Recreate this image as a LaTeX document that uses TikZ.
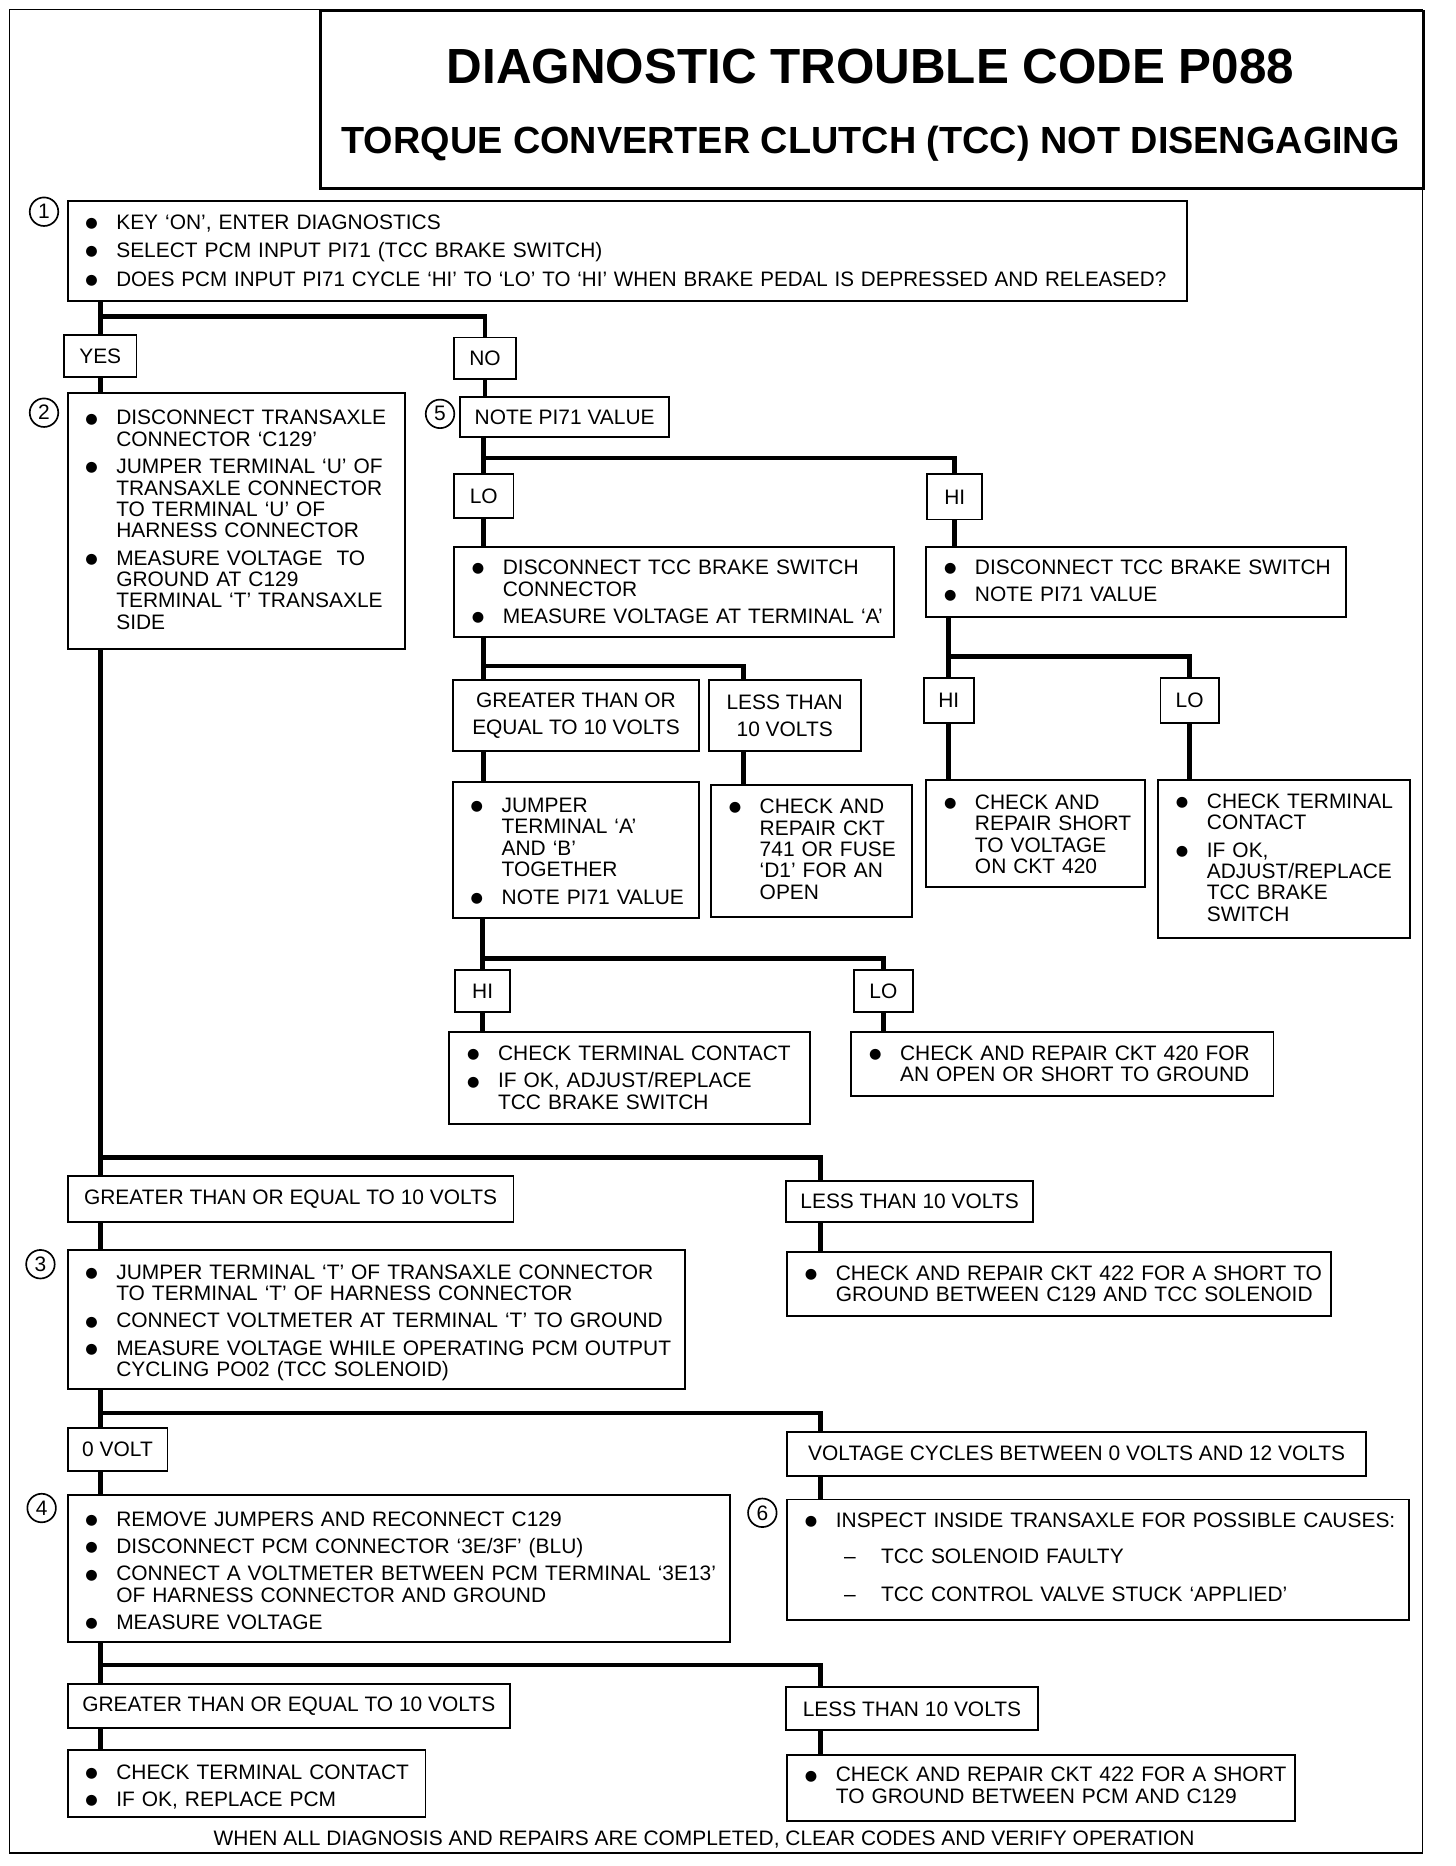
\documentclass[tikz,border=0pt]{standalone}
\usepackage{graphicx}
\usepackage{fontspec}
\setmainfont{Liberation Sans}
\newfontfamily\sym{DejaVu Sans}
\newcommand\body{\fontsize{17.6}{18}\selectfont\parskip=0pt\hyphenpenalty=10000\exhyphenpenalty=10000}
\newcommand\bul{\smash{\raisebox{1.5pt}{\sym\fontsize{12}{14}\selectfont ●}}}
\newcommand\bi{\par\hangindent=38pt\hangafter=0\noindent\llap{\makebox[38pt][l]{\hspace{12pt}\bul}}}
\newcommand\bl{\par\vspace{5pt}\bi}
\newcommand\dsh{\par\vspace{12pt}\hangindent=76pt\hangafter=0\noindent\llap{\makebox[76pt][l]{\hspace{45pt}–}}}
\newcommand\nl{\hfil\break}
\newcommand\ed[1]{\par\kern#1pt}
\tikzset{
  box/.style={draw, line width=1.6pt, fill=white, anchor=north west, inner xsep=3pt, inner ysep=0pt, align=left, font=\body},
  tag/.style={draw, line width=1.6pt, fill=white, anchor=north west, inner sep=0pt, align=center, font=\body},
  wire/.style={line width=4pt},
  num/.style={draw, circle, line width=1.4pt, minimum size=24pt, inner sep=0pt, font=\body},
}
\begin{document}
\begin{tikzpicture}[x=1pt, y=-1pt]
\useasboundingbox (0,0) rectangle (1224,1569);
\draw[line width=1.2pt] (8,8) rectangle (1196,1558);
% heading
\node[draw, line width=2.4pt, fill=white, anchor=north west, minimum width=928pt, minimum height=149pt, inner sep=0pt] (head) at (268,8) {};
\node[anchor=base, font=\fontsize{41.5}{44}\selectfont\bfseries] (ttl) at (732,70) {DIAGNOSTIC TROUBLE CODE P088};
\node[anchor=base, font=\fontsize{31.8}{34}\selectfont\bfseries] (sub) at (732,129) {TORQUE CONVERTER CLUTCH (TCC) NOT DISENGAGING};
% step 1
\node[box, text width=935pt, minimum height=84pt] (b1) at (56,168) {\bi KEY ‘ON’, ENTER DIAGNOSTICS
  \par\vspace{1pt}\bl SELECT PCM INPUT PI71 (TCC BRAKE SWITCH)
  \par\vspace{1pt}\bl \scalebox{0.983}[1]{DOES PCM INPUT PI71 CYCLE ‘HI’ TO ‘LO’ TO ‘HI’ WHEN BRAKE PEDAL IS DEPRESSED AND RELEASED?}\ed{6}};
\node[tag, minimum width=61pt, minimum height=35pt] (yes) at (53,281) {YES};
\node[tag, minimum width=52pt, minimum height=35pt] (no) at (381,283) {NO};
% step 2
\node[box, text width=278pt, minimum height=215pt] (b2) at (56,330) {\bi DISCONNECT TRANSAXLE\nl CONNECTOR ‘C129’
  \bl JUMPER TERMINAL ‘U’ OF\nl TRANSAXLE CONNECTOR\nl TO TERMINAL ‘U’ OF\nl HARNESS CONNECTOR
  \bl MEASURE VOLTAGE\ \ TO\nl GROUND AT C129\nl TERMINAL ‘T’ TRANSAXLE\nl SIDE\ed{8}};
% step 5
\node[tag, minimum width=176pt, minimum height=34pt] (n5) at (386,333) {NOTE PI71 VALUE};
\node[tag, minimum width=50pt, minimum height=37pt] (lo1) at (381,398) {LO};
\node[tag, minimum width=46pt, minimum height=38pt] (hi1) at (779,398) {HI};
\node[box, text width=364pt, minimum height=76pt] (b5a) at (381,459) {\bi DISCONNECT TCC BRAKE SWITCH\nl CONNECTOR
  \bl MEASURE VOLTAGE AT TERMINAL ‘A’\ed{6}};
\node[box, text width=347pt, minimum height=59pt] (b5b) at (778,459) {\bi DISCONNECT TCC BRAKE SWITCH
  \bl NOTE PI71 VALUE\ed{8}};
\node[tag, minimum width=207pt, minimum height=60pt] (ge1) at (380,571) {GREATER THAN OR\\[4pt]EQUAL TO 10 VOLTS};
\node[tag, minimum width=128pt, minimum height=60pt] (lt1) at (595,571) {LESS THAN\\[4pt]10 VOLTS};
\node[box, text width=201pt, minimum height=114pt] (bj) at (380,657) {\bi JUMPER\nl TERMINAL ‘A’\nl AND ‘B’\nl TOGETHER
  \bl NOTE PI71 VALUE\ed{4}};
\node[box, text width=163pt, minimum height=111pt] (bk) at (597,659) {\bi CHECK AND\nl REPAIR CKT\nl 741 OR FUSE\nl ‘D1’ FOR AN\nl OPEN\ed{8}};
\node[tag, minimum width=46pt, minimum height=35pt] (hi2) at (382,815) {HI};
\node[tag, minimum width=50pt, minimum height=35pt] (lo2) at (717,815) {LO};
\node[box, text width=297pt, minimum height=77pt] (bm) at (377,867) {\bi CHECK TERMINAL CONTACT
  \bl IF OK, ADJUST/REPLACE\nl TCC BRAKE SWITCH\ed{6}};
\node[box, text width=349pt, minimum height=54pt] (bn) at (715,867) {\bi CHECK AND REPAIR CKT 420 FOR\nl AN OPEN OR SHORT TO GROUND\ed{6}};
\node[tag, minimum width=42pt, minimum height=38pt] (hi3) at (776,569) {HI};
\node[tag, minimum width=49pt, minimum height=38pt] (lo3) at (975,569) {LO};
\node[box, text width=178pt, minimum height=90pt] (bp) at (778,655) {\bi CHECK AND\nl REPAIR SHORT\nl TO VOLTAGE\nl ON CKT 420\ed{4}};
\node[box, text width=206pt, minimum height=133pt] (bq) at (973,655) {\bi CHECK TERMINAL\nl CONTACT
  \bl IF OK,\nl ADJUST/REPLACE\nl TCC BRAKE\nl SWITCH\ed{8}};
% step 3
\node[tag, minimum width=375pt, minimum height=39pt] (ge3) at (56,988) {GREATER THAN OR EQUAL TO 10 VOLTS};
\node[tag, minimum width=208pt, minimum height=35pt] (lt3) at (660,992) {LESS THAN 10 VOLTS};
\node[box, text width=513pt, minimum height=117pt] (b3) at (56,1050) {\bi JUMPER TERMINAL ‘T’ OF TRANSAXLE CONNECTOR\nl TO TERMINAL ‘T’ OF HARNESS CONNECTOR
  \bl CONNECT VOLTMETER AT TERMINAL ‘T’ TO GROUND
  \bl MEASURE VOLTAGE WHILE OPERATING PCM OUTPUT\nl CYCLING PO02 (TCC SOLENOID)\par};
\node[box, text width=451pt, minimum height=54pt] (br3) at (661,1052) {\bi CHECK AND REPAIR CKT 422 FOR A SHORT TO\nl GROUND BETWEEN C129 AND TCC SOLENOID\ed{6}};
% step 4
\node[tag, minimum width=84pt, minimum height=36pt] (zv) at (56,1200) {0 VOLT};
\node[tag, minimum width=487pt, minimum height=37pt] (vc) at (661,1203) {VOLTAGE CYCLES BETWEEN 0 VOLTS AND 12 VOLTS};
\node[box, text width=551pt, minimum height=124pt] (b4) at (56,1256) {\bi REMOVE JUMPERS AND RECONNECT C129
  \bl DISCONNECT PCM CONNECTOR ‘3E/3F’ (BLU)
  \bl CONNECT A VOLTMETER BETWEEN PCM TERMINAL ‘3E13’\nl OF HARNESS CONNECTOR AND GROUND
  \bl MEASURE VOLTAGE\ed{2}};
\node[box, text width=517pt, minimum height=101pt] (b6) at (661,1260) {\bi INSPECT INSIDE TRANSAXLE FOR POSSIBLE CAUSES:
  \dsh TCC SOLENOID FAULTY
  \par\vspace{2pt}\dsh TCC CONTROL VALVE STUCK ‘APPLIED’\ed{10}};
\node[tag, minimum width=372pt, minimum height=37pt] (ge4) at (56,1415) {GREATER THAN OR EQUAL TO 10 VOLTS};
\node[tag, minimum width=212pt, minimum height=36pt] (lt4) at (660,1418) {LESS THAN 10 VOLTS};
\node[box, text width=295pt, minimum height=56pt] (bs) at (56,1471) {\bi CHECK TERMINAL CONTACT
  \bl IF OK, REPLACE PCM\par};
\node[box, text width=421pt, minimum height=55pt] (bt) at (661,1475) {\bi CHECK AND REPAIR CKT 422 FOR A SHORT\nl TO GROUND BETWEEN PCM AND C129\ed{10}};
% step numbers
\node[num] (c1) at (37,178) {1};
\node[num] (c2) at (37,347) {2};
\node[num] (c5) at (370,348) {5};
\node[num] (c3) at (34,1063) {3};
\node[num] (c4) at (35,1268) {4};
\node[num] (c6) at (641,1272) {6};
% wires
\coordinate (j1) at (yes.north |- 0,266);
\draw[wire] (b1.south -| yes.north) -- (yes.north);
\draw[wire] (j1) -| (no.north);
\draw[wire] (yes.south) -- (yes.south |- b2.north);
\draw[wire] (no.south) -- (no.south |- n5.north);
\coordinate (j2) at (lo1.north |- 0,385);
\draw[wire] (n5.south -| lo1.north) -- (lo1.north);
\draw[wire] (j2) -| (hi1.north);
\draw[wire] (lo1.south) -- (lo1.south |- b5a.north);
\draw[wire] (hi1.south) -- (hi1.south |- b5b.north);
\coordinate (j3) at (lo1.south |- 0,560);
\draw[wire] (b5a.south -| lo1.south) -- (ge1.north -| lo1.south);
\draw[wire] (j3) -| ([xshift=30pt]lt1.north west);
\draw[wire] (ge1.south -| lo1.south) -- (bj.north -| lo1.south);
\draw[wire] ([xshift=30pt]lt1.south west) -- ([xshift=30pt]lt1.south west |- bk.north);
\coordinate (j4) at (hi2.north |- 0,806);
\draw[wire] (bj.south -| hi2.north) -- (hi2.north);
\draw[wire] (j4) -| (lo2.north);
\draw[wire] (hi2.south) -- (hi2.south |- bm.north);
\draw[wire] (lo2.south) -- (lo2.south |- bn.north);
\coordinate (j5) at (hi3.north |- 0,552);
\draw[wire] (b5b.south -| hi3.north) -- (hi3.north);
\draw[wire] (j5) -| (lo3.north);
\draw[wire] (hi3.south) -- (hi3.south |- bp.north);
\draw[wire] (lo3.south) -- (lo3.south |- bq.north);
% main trunk
\coordinate (rc) at ([xshift=30pt]lt3.north west);
\coordinate (j6) at (yes.south |- 0,973);
\draw[wire] (b2.south -| yes.south) -- (ge3.north -| yes.south);
\draw[wire] (j6) -| (rc);
\draw[wire] (ge3.south -| yes.south) -- (b3.north -| yes.south);
\draw[wire] (lt3.south -| rc) -- (br3.north -| rc);
\coordinate (j7) at (yes.south |- 0,1188);
\draw[wire] (b3.south -| yes.south) -- (zv.north -| yes.south);
\draw[wire] (j7) -| (vc.north -| rc);
\draw[wire] (zv.south -| yes.south) -- (b4.north -| yes.south);
\draw[wire] (vc.south -| rc) -- (b6.north -| rc);
\coordinate (j8) at (yes.south |- 0,1400);
\draw[wire] (b4.south -| yes.south) -- (ge4.north -| yes.south);
\draw[wire] (j8) -| (lt4.north -| rc);
\draw[wire] (ge4.south -| yes.south) -- (bs.north -| yes.south);
\draw[wire] (lt4.south -| rc) -- (bt.north -| rc);
% foot
\node[anchor=base, font=\body] (foot) at (592,1552) {WHEN ALL DIAGNOSIS AND REPAIRS ARE COMPLETED, CLEAR CODES AND VERIFY OPERATION};
\end{tikzpicture}
\end{document}
